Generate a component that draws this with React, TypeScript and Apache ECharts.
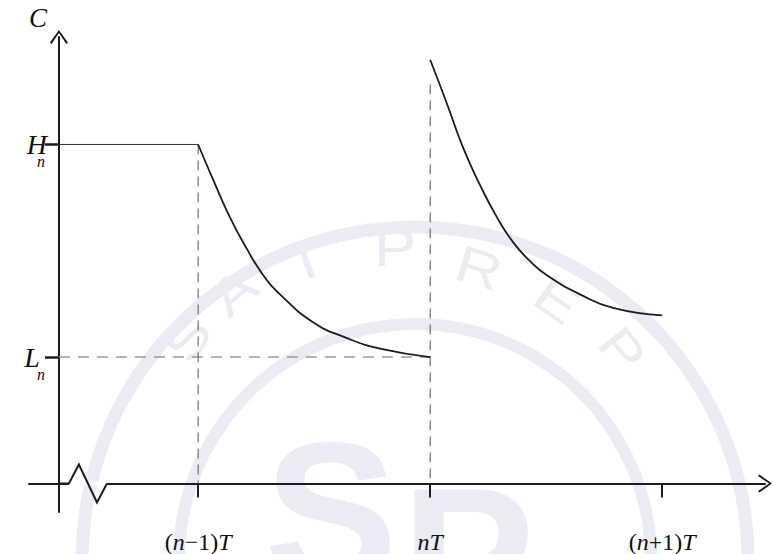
import React, { useEffect, useRef } from "react";
import * as echarts from "echarts";

// x in units of T (origin at the y axis); C in arbitrary units
const H_N = 10;
const L_N = 3.73;
const xTickValues = [0.6, 1.6, 2.6];
const xTickLabels = ["(n−1)T", "nT", "(n+1)T"];
const yTickValues = [H_N, L_N];
const yTickLabels = ["H_n", "L_n"];

const holdLine: [number, number][] = [[0, H_N], [0.6, H_N]];
const decay1: [number, number][] = [
  [0.6, 10.0], [0.664, 8.97], [0.737, 7.85], [0.81, 6.92], [0.879, 6.16],
  [0.953, 5.58], [1.095, 4.76], [1.241, 4.29], [1.384, 3.98], [1.6, 3.73],
];
const decay2: [number, number][] = [
  [1.6, 12.5], [1.672, 11.21], [1.741, 9.92], [1.815, 8.8], [1.888, 7.85],
  [1.957, 7.12], [2.03, 6.56], [2.103, 6.14], [2.246, 5.58], [2.388, 5.18], [2.6, 4.96],
];
const dashPrev: [number, number][] = [[0.6, H_N], [0.6, 0]];
const dashNow: [number, number][] = [[1.6, 11.77], [1.6, 0]];
const dashLow: [number, number][] = [[0, L_N], [1.6, L_N]];
const breakGap: [number, number][] = [[0.043, 0], [0.207, 0]];
const breakZigzag: [number, number][] = [[0, 0], [0.043, 0], [0.086, 0.56], [0.164, -0.56], [0.207, 0]];

const X_MIN = -0.129;
const X_MAX = 3.043;
const Y_MIN = -0.84;
const Y_MAX = 13.17;

const INK = "#1c1c1c";
const WM = "#ebebf3";
const serif = "'Liberation Serif', 'Times New Roman', serif";
const sans = "'Liberation Sans', Arial, sans-serif";

const arrowPath = "path://M9,0 L18,12.6 L16.4,14 L9,3 L1.6,14 L0,12.6 Z";

const near = (a: number, b: number) => Math.abs(a - b) < 1e-6;

export default function App() {
  const ref = useRef<HTMLDivElement>(null);
  useEffect(() => {
    if (!ref.current) return;
    const chart = echarts.init(ref.current, undefined, { renderer: "svg" });
    const lineSeries = (name: string, data: [number, number][], style: any, extra: any = {}) => ({
      name,
      type: "line",
      data,
      symbol: "none",
      silent: true,
      lineStyle: style,
      ...extra,
    });
    const wmLetters = [
      { t: "S", x: 188, y: 339, r: 58 },
      { t: "A", x: 234, y: 292, r: 40 },
      { t: "T", x: 306, y: 261, r: 20 },
      { t: "P", x: 395, y: 248, r: 0 },
      { t: "R", x: 479, y: 268, r: -17 },
      { t: "E", x: 557, y: 300, r: -35 },
      { t: "P", x: 622, y: 350, r: -52 },
    ];
    const watermark: any[] = [
      {
        id: "ring-outer", type: "circle", z: -10, silent: true,
        shape: { cx: 415, cy: 560, r: 333 },
        style: { fill: "none", stroke: WM, lineWidth: 13 },
      },
      {
        id: "ring-inner", type: "circle", z: -10, silent: true,
        shape: { cx: 415, cy: 560, r: 236 },
        style: { fill: "none", stroke: WM, lineWidth: 12 },
      },
      ...wmLetters.map((l, i) => ({
        id: "wm-letter-" + i, type: "text", z: -10, silent: true,
        x: l.x, y: l.y, rotation: (l.r * Math.PI) / 180, scaleY: 0.8,
        style: {
          text: l.t, fill: WM, font: `normal 64px ${sans}`,
          align: "center", verticalAlign: "middle",
        },
      })),
      {
        id: "wm-big-s", type: "text", z: -10, silent: true, x: 331, y: 512,
        style: { text: "S", fill: WM, font: `bold 200px ${sans}`, align: "center", verticalAlign: "middle" },
      },
      {
        id: "wm-big-p", type: "text", z: -10, silent: true, x: 468, y: 558,
        style: { text: "P", fill: WM, font: `bold 200px ${sans}`, align: "center", verticalAlign: "middle" },
      },
    ];
    chart.setOption({
      animation: false,
      backgroundColor: "#ffffff",
      grid: { left: 29, right: 9, top: 37, bottom: 17, containLabel: false },
      graphic: watermark,
      xAxis: {
        type: "value",
        min: X_MIN,
        max: X_MAX,
        splitLine: { show: false },
        axisLine: {
          show: true,
          onZero: true,
          symbol: ["none", arrowPath],
          symbolSize: [18, 14],
          lineStyle: { color: INK, width: 2 },
        },
        axisTick: {
          show: true,
          customValues: xTickValues,
          length: 14,
          lineStyle: { color: INK, width: 2 },
        },
        axisLabel: {
          show: true,
          customValues: xTickValues,
          margin: 18,
          formatter: (v: number) => {
            const i = xTickValues.findIndex((t) => near(t, v));
            const s = i >= 0 ? xTickLabels[i] : "";
            if (s === "nT") return "{i|nT}";
            if (s.startsWith("(")) {
              const mid = s.slice(2, s.length - 1); // "−1)" or "+1)"
              return `{r|(}{i|n}{r|${mid}}{i|T}`;
            }
            return s;
          },
          rich: {
            r: { fontFamily: serif, fontSize: 24, color: "#111" },
            i: { fontFamily: serif, fontSize: 24, fontStyle: "italic", color: "#111" },
          },
        },
      },
      yAxis: {
        type: "value",
        min: Y_MIN,
        max: Y_MAX,
        splitLine: { show: false },
        name: "C",
        nameLocation: "end",
        nameGap: 6,
        nameTextStyle: {
          fontFamily: serif,
          fontSize: 27,
          fontStyle: "italic",
          color: "#111",
          align: "right",
          padding: [0, 12, 0, 0],
        },
        axisLine: {
          show: true,
          onZero: true,
          symbol: ["none", arrowPath],
          symbolSize: [18, 14],
          lineStyle: { color: INK, width: 2 },
        },
        axisTick: {
          show: true,
          customValues: yTickValues,
          length: 14,
          lineStyle: { color: INK, width: 2.5 },
        },
        axisLabel: { show: false },
      },
      series: [
        lineSeries("dashLow", dashLow, { color: "#9a9a9a", width: 1.5, type: [11, 8] }),
        lineSeries("dashPrev", dashPrev, { color: "#555", width: 1, type: [10, 6] }),
        lineSeries("dashNow", dashNow, { color: "#555", width: 1, type: [10, 6] }),
        lineSeries("hold", holdLine, { color: "#333", width: 1 }),
        lineSeries("decay1", decay1, { color: INK, width: 1.8 }, { smooth: true }),
        lineSeries("decay2", decay2, { color: INK, width: 1.8 }, { smooth: true }),
        lineSeries("gap", breakGap, { color: "#ffffff", width: 5 }, { z: 3 }),
        lineSeries("zigzag", breakZigzag, { color: INK, width: 2, join: "miter" }, { z: 4 }),
      ],
    });

    // y tick labels (letter with a subscript n set below it), placed at the ticks
    const labelEls: any[] = [];
    yTickValues.forEach((v, i) => {
      const [px, py] = chart.convertToPixel({ gridIndex: 0 }, [0, v]) as number[];
      const [main, sub] = yTickLabels[i].split("_");
      const isL = main === "L";
      labelEls.push({
        id: "ylab-main-" + i, type: "text", silent: true, z: 5,
        x: px - (isL ? 19 : 12), y: py,
        style: {
          text: main, fill: "#111", font: `italic 28px ${serif}`,
          align: "right", verticalAlign: "middle",
        },
      });
      labelEls.push({
        id: "ylab-sub-" + i, type: "text", silent: true, z: 5,
        x: px - 14, y: py + 17,
        style: {
          text: sub, fill: "#111", font: `italic 16px ${serif}`,
          align: "right", verticalAlign: "middle",
        },
      });
    });
    chart.setOption({ graphic: [...watermark, ...labelEls] });
    return () => chart.dispose();
  }, []);
  return (
    <div
      ref={ref}
      style={{ position: "absolute", left: 0, top: 0, width: 774, height: 554, background: "#fff" }}
    />
  );
}
